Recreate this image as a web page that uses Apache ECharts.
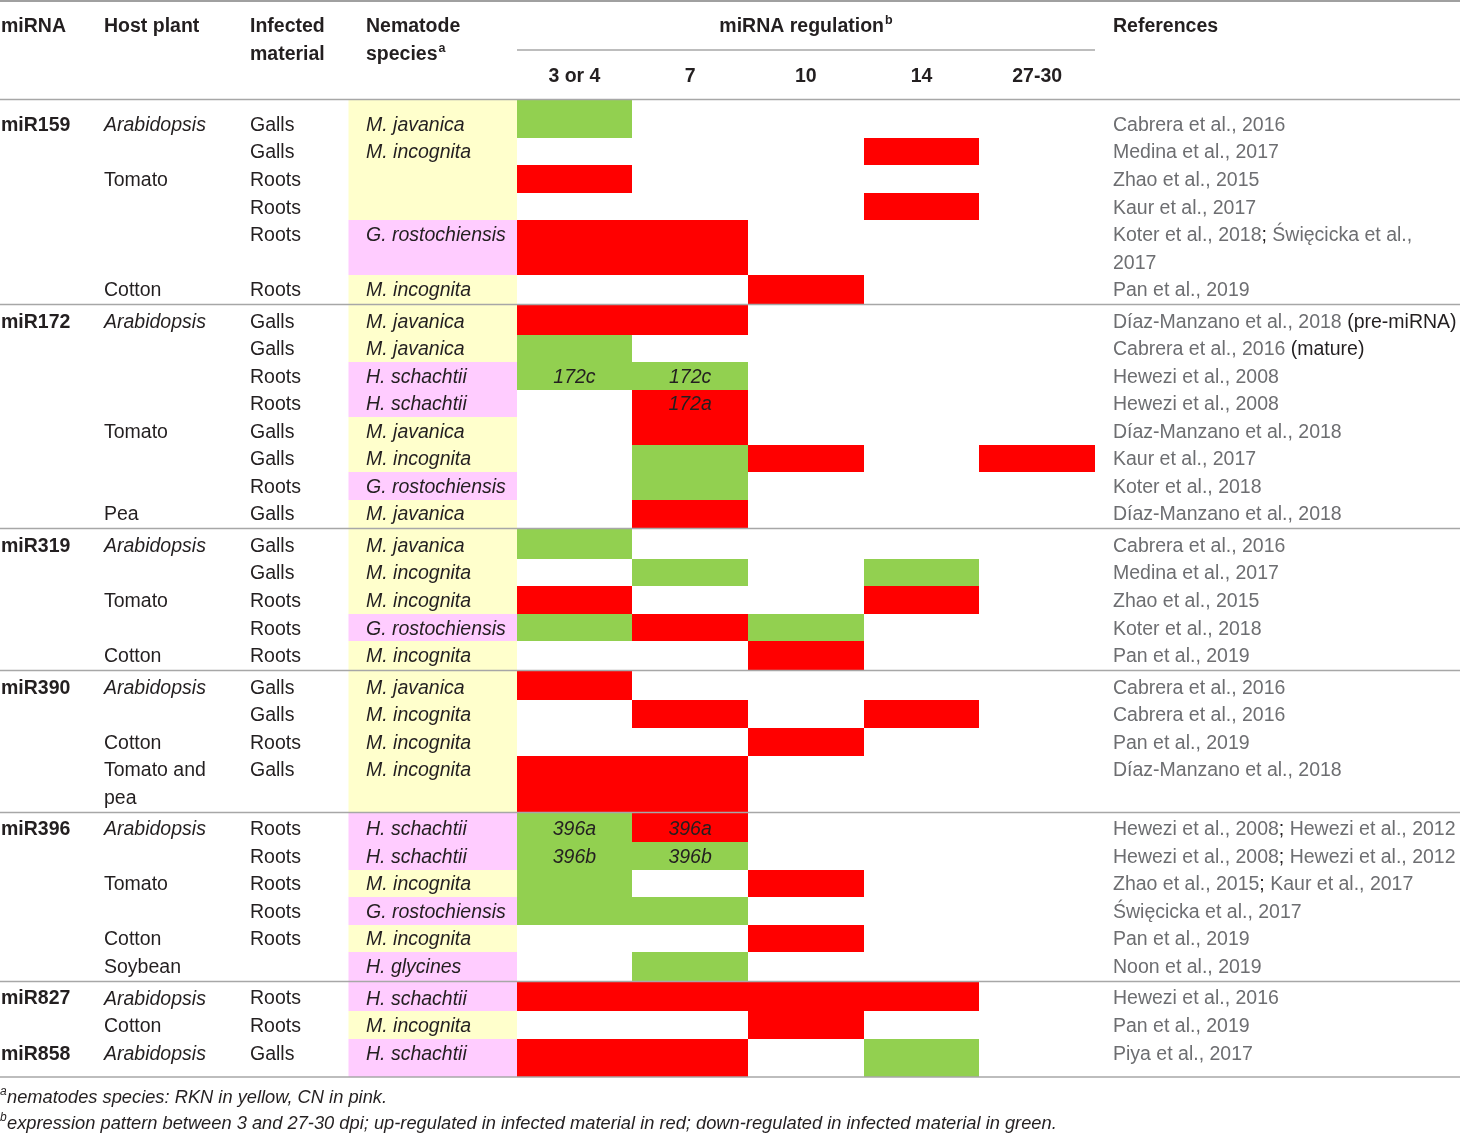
<!DOCTYPE html>
<html><head><meta charset="utf-8">
<script src="https://cdn.jsdelivr.net/npm/echarts@6/dist/echarts.min.js"></script>
<style>html,body{margin:0;padding:0;background:#fff}#c{width:1460px;height:1133px}</style>
</head><body><div id="c"></div>
<script>
// ---------------- DATA ----------------
const timepoints = ['3 or 4', '7', '10', '14', '27-30'];

const rowMirna = ['miR159','','','','','',
  'miR172','','','','','','','',
  'miR319','','','','',
  'miR390','','','',
  'miR396','','','','','',
  'miR827','','miR858'];

const rowHost = ['Arabidopsis','','Tomato','','','Cotton',
  'Arabidopsis','','','','Tomato','','','Pea',
  'Arabidopsis','','Tomato','','Cotton',
  'Arabidopsis','','Cotton','Tomato and\npea',
  'Arabidopsis','','Tomato','','Cotton','Soybean',
  'Arabidopsis','Cotton','Arabidopsis'];

const rowMaterial = ['Galls','Galls','Roots','Roots','Roots','Roots',
  'Galls','Galls','Roots','Roots','Galls','Galls','Roots','Galls',
  'Galls','Galls','Roots','Roots','Roots',
  'Galls','Galls','Roots','Galls',
  'Roots','Roots','Roots','Roots','Roots','',
  'Roots','Roots','Galls'];

const rowSpecies = ['M. javanica','M. incognita','','','G. rostochiensis','M. incognita',
  'M. javanica','M. javanica','H. schachtii','H. schachtii','M. javanica','M. incognita','G. rostochiensis','M. javanica',
  'M. javanica','M. incognita','M. incognita','G. rostochiensis','M. incognita',
  'M. javanica','M. incognita','M. incognita','M. incognita',
  'H. schachtii','H. schachtii','M. incognita','G. rostochiensis','M. incognita','H. glycines',
  'H. schachtii','M. incognita','H. schachtii'];

// RKN = root-knot nematode (yellow), CN = cyst nematode (pink)
const rowNematode = ['RKN','RKN','RKN','RKN','CN','RKN',
  'RKN','RKN','CN','CN','RKN','RKN','CN','RKN',
  'RKN','RKN','RKN','CN','RKN',
  'RKN','RKN','RKN','RKN',
  'CN','CN','RKN','CN','RKN','CN',
  'CN','RKN','CN'];

// regulation per time point: 1 = up-regulated (red), -1 = down-regulated (green), 0 = none
const reg3or4 = [-1,0,1,0,1,0,  1,-1,-1,0,0,0,0,0,  -1,0,1,-1,0,  1,0,0,1,  -1,-1,-1,-1,0,0,  1,0,1];
const reg7    = [0,0,0,0,1,0,   1,0,-1,1,1,-1,-1,1, 0,-1,0,1,0,   0,1,0,1,  1,-1,0,-1,0,-1,   1,0,1];
const reg10   = [0,0,0,0,0,1,   0,0,0,0,0,1,0,0,    0,0,0,-1,1,   0,0,1,0,  0,0,1,0,1,0,      1,1,0];
const reg14   = [0,1,0,1,0,0,   0,0,0,0,0,0,0,0,    0,-1,1,0,0,   0,1,0,0,  0,0,0,0,0,0,      1,0,-1];
const reg2730 = [0,0,0,0,0,0,   0,0,0,0,0,1,0,0,    0,0,0,0,0,    0,0,0,0,  0,0,0,0,0,0,      0,0,0];

// isoform labels written inside cells
const isoformRow  = [8, 8, 9, 23, 23, 24, 24];
const isoformCol  = [0, 1, 1, 0, 1, 0, 1];
const isoformText = ['172c','172c','172a','396a','396a','396b','396b'];

const rowRefs = ['Cabrera et al., 2016','Medina et al., 2017','Zhao et al., 2015','Kaur et al., 2017',
  'Koter et al., 2018; Święcicka et al.,\n2017','Pan et al., 2019',
  'Díaz-Manzano et al., 2018','Cabrera et al., 2016','Hewezi et al., 2008','Hewezi et al., 2008',
  'Díaz-Manzano et al., 2018','Kaur et al., 2017','Koter et al., 2018','Díaz-Manzano et al., 2018',
  'Cabrera et al., 2016','Medina et al., 2017','Zhao et al., 2015','Koter et al., 2018','Pan et al., 2019',
  'Cabrera et al., 2016','Cabrera et al., 2016','Pan et al., 2019','Díaz-Manzano et al., 2018',
  'Hewezi et al., 2008; Hewezi et al., 2012','Hewezi et al., 2008; Hewezi et al., 2012',
  'Zhao et al., 2015; Kaur et al., 2017','Święcicka et al., 2017','Pan et al., 2019','Noon et al., 2019',
  'Hewezi et al., 2016','Pan et al., 2019','Piya et al., 2017'];

const rowRefNote = ['','','','','','',
  '(pre-miRNA)','(mature)','','','','','','',
  '','','','','',
  '','','','',
  '','','','','','',
  '','',''];

const footnoteA = 'nematodes species: RKN in yellow, CN in pink.';
const footnoteB = 'expression pattern between 3 and 27-30 dpi; up-regulated in infected material in red; down-regulated in infected material in green.';

// ---------------- STYLE / LAYOUT ----------------
const regulation = [reg3or4, reg7, reg10, reg14, reg2730];
const unruledBlocks = ['miR858'];
const FAM = '"Liberation Sans", Arial, Helvetica, sans-serif';
const FS = 19.5;
const BLACK = '#231f20', GREY = '#6d6e71', RULE = '#a7a7a7';
const RED = '#ff0000', GREEN = '#92d050', YELLOW = '#ffffcc', PINK = '#ffccff';
const X_MIRNA = 1, X_HOST = 104, X_MAT = 250, X_SPEC = 366, X_REF = 1113;
const BG_X0 = 348.5, BG_X1 = 517;
const W = 1460;
const TP = 0.3, GP = 0.073;
const TXT_DY = 1.5;

const n = rowMirna.length;
const nLines = rowMirna.map((_, i) => Math.max(rowHost[i].split('\n').length, rowRefs[i].split('\n').length));
const blockStart = rowMirna.map((m, i) => i === 0 || (m !== '' && unruledBlocks.indexOf(m) < 0));
const blockEnd = rowMirna.map((_, i) => i === n - 1 || blockStart[i + 1]);

const layout = [];
let yy = 0;
for (let i = 0; i < n; i++) {
  const L = {};
  L.cellTop = yy;
  if (blockStart[i]) yy += GP + (i === 0 ? TP : 0);
  L.innerTop = yy;
  yy += nLines[i];
  if (blockEnd[i]) yy += GP + (i === n - 1 ? TP : 0);
  L.cellBottom = yy;
  layout.push(L);
}
const totalUnits = yy;

const font = (style, weight, size) => `${style} ${weight} ${size}px ${FAM}`;
const FONT_N = font('normal', 'normal', FS), FONT_I = font('italic', 'normal', FS), FONT_B = font('normal', 'bold', FS);

function textEl(x, y, text, f, fill, align) {
  return { type: 'text', style: { x, y, text, font: f, fill, align: align || 'left', verticalAlign: 'middle' } };
}

function renderItem(params, api) {
  const i = params.dataIndex;
  const L = layout[i];
  const band = api.size([1, 0])[0];
  const yPx = v => api.coord([0, v])[1];
  const top = Math.round(yPx(L.cellTop)), bot = Math.round(yPx(L.cellBottom));
  const lineY = k => yPx(L.innerTop + 0.5 + k) + TXT_DY;
  const ch = [];
  ch.push({ type: 'rect', shape: { x: BG_X0, y: top, width: BG_X1 - BG_X0, height: bot - top },
    style: { fill: rowNematode[i] === 'RKN' ? YELLOW : PINK } });
  regulation.forEach((arr, c) => {
    const v = arr[i];
    if (!v) return;
    const cx = api.coord([c, 0])[0];
    const x0 = Math.round(cx - band / 2), x1 = Math.round(cx + band / 2);
    ch.push({ type: 'rect', shape: { x: x0, y: top, width: x1 - x0, height: bot - top },
      style: { fill: v > 0 ? RED : GREEN } });
  });
  isoformRow.forEach((r, k) => {
    if (r !== i) return;
    const cx = api.coord([isoformCol[k], 0])[0];
    ch.push(textEl(cx, lineY(0), isoformText[k], FONT_I, BLACK, 'center'));
  });
  if (rowMirna[i]) ch.push(textEl(X_MIRNA, lineY(0), rowMirna[i], FONT_B, BLACK));
  rowHost[i].split('\n').forEach((t, k) => {
    if (t) ch.push(textEl(X_HOST, lineY(k), t, rowHost[i] === 'Arabidopsis' ? FONT_I : FONT_N, BLACK));
  });
  if (rowMaterial[i]) ch.push(textEl(X_MAT, lineY(0), rowMaterial[i], FONT_N, BLACK));
  if (rowSpecies[i]) ch.push(textEl(X_SPEC, lineY(0), rowSpecies[i], FONT_I, BLACK));
  const refLines = rowRefs[i].split('\n');
  refLines.forEach((t, k) => {
    let rich = t.split(';').map(p => '{g|' + p + '}').join('{k|;}');
    if (k === refLines.length - 1 && rowRefNote[i]) rich += '{k| ' + rowRefNote[i] + '}';
    ch.push({ type: 'text', style: { x: X_REF, y: lineY(k), text: rich, font: FONT_N, fill: GREY,
      align: 'left', verticalAlign: 'middle',
      rich: { g: { fill: GREY, fontSize: FS, fontFamily: FAM }, k: { fill: BLACK, fontSize: FS, fontFamily: FAM } } } });
  });
  if (blockStart[i]) ch.push({ type: 'line', shape: { x1: 0, y1: top - 0.5, x2: W, y2: top - 0.5 }, style: { stroke: RULE, lineWidth: 1.6 } });
  if (i === n - 1) ch.push({ type: 'line', shape: { x1: 0, y1: bot, x2: W, y2: bot }, style: { stroke: RULE, lineWidth: 1.6 } });
  return { type: 'group', children: ch };
}

// text measurement for superscripts
const mctx = document.createElement('canvas').getContext('2d');
function tw(text, f) { mctx.font = f; return mctx.measureText(text).width; }

const SUP = font('normal', 'bold', 12.5);
const FN = font('italic', 'normal', 18.3);
const FN_SUP = font('italic', 'normal', 12);
const regTitle = 'miRNA regulation';
const regW = tw(regTitle, FONT_B) + tw('b', SUP) + 1;
const regX = 806 - regW / 2;

function gtext(x, y, text, f, fill) {
  return { type: 'text', x: x, y: y, silent: true,
    style: { text, font: f, fill: fill || BLACK, align: 'left', verticalAlign: 'middle' } };
}

const graphics = [
  { type: 'rect', shape: { x: 0, y: 0, width: W, height: 2 }, style: { fill: '#a0a0a0' }, silent: true },
  gtext(X_MIRNA, 27, 'miRNA', FONT_B),
  gtext(X_HOST, 27, 'Host plant', FONT_B),
  gtext(X_MAT, 27, 'Infected', FONT_B),
  gtext(X_MAT, 55, 'material', FONT_B),
  gtext(X_SPEC, 27, 'Nematode', FONT_B),
  gtext(X_SPEC, 55, 'species', FONT_B),
  gtext(X_SPEC + tw('species', FONT_B) + 1, 49, 'a', SUP),
  gtext(regX, 27, regTitle, FONT_B),
  gtext(regX + tw(regTitle, FONT_B) + 1, 21, 'b', SUP),
  { type: 'line', shape: { x1: 517, y1: 50, x2: 1095, y2: 50 }, style: { stroke: RULE, lineWidth: 1.5 }, silent: true },
  gtext(X_REF, 27, 'References', FONT_B),
  gtext(0, 1092, 'a', FN_SUP),
  gtext(7, 1098, footnoteA, FN),
  gtext(0, 1118, 'b', FN_SUP),
  gtext(7, 1124, footnoteB, FN)
];

const chart = echarts.init(document.getElementById('c'), null, { renderer: 'canvas' });
chart.setOption({
  animation: false,
  backgroundColor: '#fff',
  grid: { left: 516.6, right: 365, top: 100, bottom: 56.3, containLabel: false },
  xAxis: {
    type: 'category', data: timepoints, position: 'top', boundaryGap: true,
    axisLine: { show: false }, axisTick: { show: false }, splitLine: { show: false },
    axisLabel: { interval: 0, margin: 23, verticalAlign: 'middle', color: BLACK,
      fontFamily: FAM, fontSize: FS, fontWeight: 'bold' }
  },
  yAxis: { type: 'value', min: 0, max: totalUnits, inverse: true, show: false },
  series: [{
    type: 'custom', coordinateSystem: 'cartesian2d', clip: false, silent: true,
    renderItem: renderItem,
    data: rowMirna.map(() => [0, 0])
  }],
  graphic: graphics
});
</script></body></html>
